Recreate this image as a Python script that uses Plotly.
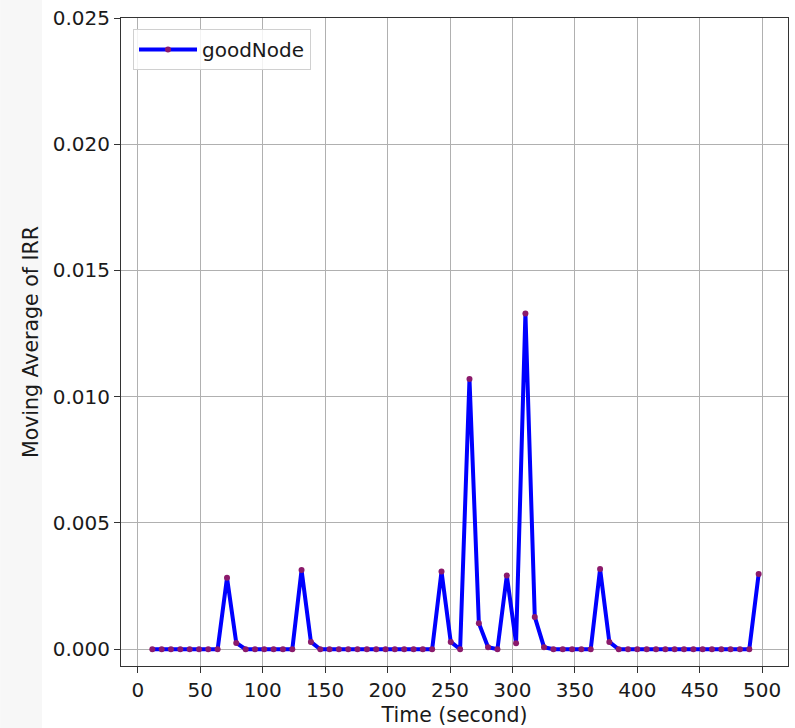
import plotly.graph_objects as go

time_s = [11.6, 19.1, 26.5, 34.0, 41.5, 49.0, 56.4, 63.9, 71.4, 78.8,
          86.3, 93.8, 101.2, 108.7, 116.2, 123.7, 131.1, 138.6, 146.1, 153.5,
          161.0, 168.5, 175.9, 183.4, 190.9, 198.4, 205.8, 213.3, 220.8, 228.2,
          235.7, 243.2, 250.6, 258.1, 265.6, 273.1, 280.5, 288.0, 295.5, 302.9,
          310.4, 317.9, 325.3, 332.8, 340.3, 347.8, 355.2, 362.7, 370.2, 377.6,
          385.1, 392.6, 400.0, 407.5, 415.0, 422.5, 429.9, 437.4, 444.9, 452.3,
          459.8, 467.3, 474.7, 482.2, 489.7, 497.2]

irr_good = [0, 0, 0, 0, 0, 0, 0, 0, 0.00283, 0.00025,
            0, 0, 0, 0, 0, 0, 0.00314, 0.00029, 0, 0,
            0, 0, 0, 0, 0, 0, 0, 0, 0, 0,
            0, 0.00308, 0.00029, 0, 0.0107, 0.00103, 0.00008, 0, 0.00292, 0.00024,
            0.0133, 0.00128, 0.00008, 0, 0, 0, 0, 0, 0.00318, 0.00029,
            0, 0, 0, 0, 0, 0, 0, 0, 0, 0,
            0, 0, 0, 0, 0, 0.00298]

x_ticks = [0, 50, 100, 150, 200, 250, 300, 350, 400, 450, 500]
y_ticks = [0.0, 0.005, 0.010, 0.015, 0.020, 0.025]

FONT = "DejaVu Sans"
TXT = "#1a1a1a"

fig = go.Figure()
fig.add_trace(go.Scatter(
    x=time_s, y=irr_good, mode="lines+markers", name="goodNode",
    line=dict(color="#0000ff", width=4),
    marker=dict(color="#8b1a6b", size=6, line=dict(width=0)),
))

axis_common = dict(
    showgrid=True, gridcolor="#b0b0b0", gridwidth=1,
    showline=True, linecolor="#333333", linewidth=1, mirror=True,
    ticks="outside", ticklen=6, tickcolor="#333333",
    tickfont=dict(family=FONT, size=20, color=TXT),
    zeroline=False,
)

# faint grey band at the far left of the screenshot
fig.add_shape(type="rect", xref="paper", yref="paper",
              x0=-0.1811, x1=-0.1183, y0=-0.2, y1=1.1,
              fillcolor="#f7f7f7", line=dict(width=0), layer="below")

fig.update_layout(
    width=795, height=728,
    margin=dict(l=121, r=6, t=17, b=61),
    paper_bgcolor="white", plot_bgcolor="white",
    font=dict(family=FONT, size=20, color=TXT),
    xaxis=dict(range=[-13.5, 520.7], tickvals=x_ticks,
               title=dict(text="Time (second)", font=dict(family=FONT, size=20.5, color=TXT), standoff=6),
               **axis_common),
    yaxis=dict(range=[-0.000665, 0.025], tickvals=y_ticks, tickformat=".3f",
               title=dict(text="Moving Average of IRR", font=dict(family=FONT, size=20.5, color=TXT), standoff=8),
               **axis_common),
    legend=dict(x=0.018, y=0.983, xanchor="left", yanchor="top",
                bgcolor="rgba(255,255,255,0.85)", bordercolor="#d0d0d0", borderwidth=1,
                itemwidth=58,
                font=dict(family=FONT, size=20, color=TXT)),
    showlegend=True,
)

fig.write_html("out.html")
